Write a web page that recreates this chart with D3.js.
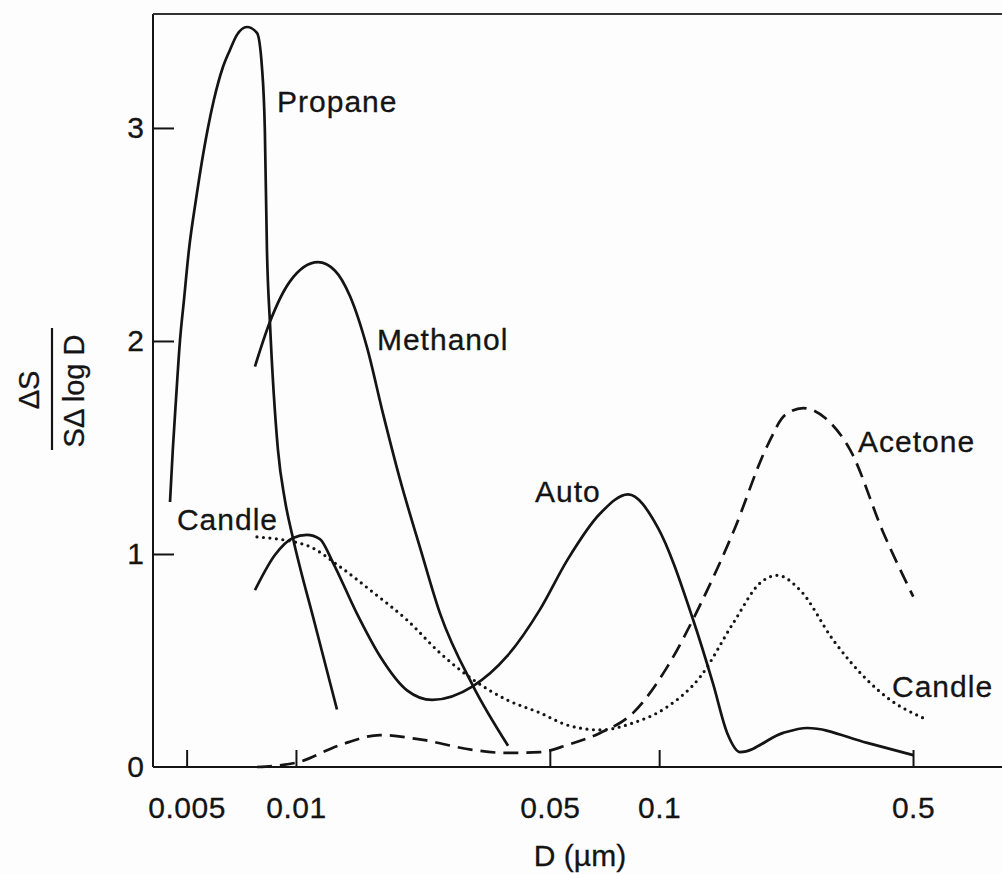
<!DOCTYPE html>
<html>
<head>
<meta charset="utf-8">
<script src="https://cdn.jsdelivr.net/npm/d3@7"></script>
<style>
  html, body { margin: 0; padding: 0; background: #fdfdfd; }
  svg { display: block; }
  text { font-family: "Liberation Sans", Arial, Helvetica, sans-serif; fill: #141414; }
</style>
</head>
<body>
<svg id="chart" width="1002" height="874"></svg>
<script>
// ---- Data (D in µm, value = ΔS / (S Δ log D)) ----
const propane = [[0.00450,1.244],[0.00458,1.488],[0.004673,1.723],[0.004793,2.00],[0.004916,2.192],[0.005073,2.427],[0.005303,2.662],[0.005578,2.897],[0.005723,3.00],[0.005942,3.131],[0.006295,3.286],[0.00658,3.366],[0.006879,3.437],[0.007328,3.474],[0.00781,3.446],[0.00806,3.286],[0.00821,2.99],[0.00832,2.427],[0.00848,2.085],[0.00892,1.49],[0.00933,1.25],[0.00981,1.075],[0.01128,0.67],[0.01297,0.27]];
const methanol = [[0.00771,1.88],[0.00848,2.09],[0.00963,2.28],[0.01150,2.37],[0.01281,2.33],[0.01409,2.21],[0.01569,1.97],[0.01736,1.66],[0.01934,1.35],[0.02196,1.03],[0.02494,0.72],[0.03074,0.38],[0.03837,0.10]];
const autoData = [[0.00771,0.83],[0.00875,0.995],[0.00981,1.075],[0.01072,1.09],[0.01164,1.07],[0.01264,0.96],[0.01472,0.72],[0.01704,0.52],[0.02022,0.36],[0.02370,0.315],[0.03074,0.38],[0.03813,0.52],[0.04700,0.74],[0.05580,0.97],[0.06879,1.19],[0.08214,1.28],[0.09874,1.13],[0.1241,0.69],[0.1408,0.39],[0.1539,0.16],[0.1672,0.07],[0.2196,0.16],[0.2557,0.183],[0.3741,0.113],[0.5007,0.056]];
const candle = [[0.00781,1.08],[0.01072,1.04],[0.01322,0.94],[0.01630,0.82],[0.02022,0.69],[0.02494,0.535],[0.03074,0.41],[0.03813,0.315],[0.04700,0.254],[0.05580,0.197],[0.06879,0.174],[0.08478,0.207],[0.1052,0.282],[0.1297,0.423],[0.1600,0.676],[0.1898,0.864],[0.2114,0.90],[0.2445,0.83],[0.3015,0.596],[0.3741,0.408],[0.4329,0.315],[0.5338,0.23]];
const acetone = [[0.00781,0.0],[0.0100,0.02],[0.01322,0.103],[0.01704,0.15],[0.02238,0.127],[0.03074,0.08],[0.03813,0.066],[0.04700,0.07],[0.05580,0.103],[0.06879,0.16],[0.08478,0.254],[0.1052,0.469],[0.1297,0.761],[0.1600,1.103],[0.1984,1.507],[0.2224,1.653],[0.2493,1.685],[0.2866,1.638],[0.3359,1.488],[0.4142,1.10],[0.5007,0.80]];

const xTicks = [0.005, 0.01, 0.05, 0.1, 0.5];
const xTickLabels = ["0.005", "0.01", "0.05", "0.1", "0.5"];
const yTicks = [0, 1, 2, 3];
const yTickLabels = ["0", "1", "2", "3"];

const seriesNames = ["Propane", "Methanol", "Auto", "Candle", "Acetone"];
const labelNames = ["Propane", "Methanol", "Auto", "Candle", "Acetone", "Candle"];
const labelD = [0.00887, 0.01671, 0.0455, 0.004702, 0.3528, 0.4377];
const labelV = [3.075, 1.958, 1.244, 1.113, 1.479, 0.329];

(function () {
  // ---- Layout ----
  const svg = d3.select("#chart");
  const pl = 153, pr = 1002, pt = 14, pb = 767;
  const x = d3.scaleLog().domain([0.00404, 0.879]).range([pl, pr]);
  const y = d3.scaleLinear().domain([0, 3.535]).range([pb, pt]);
  const ink = "#141414";

  // frame: left axis, top line
  svg.append("line").attr("x1", pl).attr("x2", pl).attr("y1", pt).attr("y2", pb)
    .attr("stroke", ink).attr("stroke-width", 2);
  svg.append("line").attr("x1", pl).attr("x2", pr).attr("y1", pt).attr("y2", pt)
    .attr("stroke", "#333").attr("stroke-width", 2);

  // x axis (ticks inward)
  const xAxis = d3.axisBottom(x).tickValues(xTicks)
    .tickFormat((d, i) => xTickLabels[i]).tickSizeInner(-17).tickSizeOuter(0).tickPadding(30);
  const gx = svg.append("g").attr("transform", `translate(0,${pb})`).call(xAxis);
  gx.select(".domain").attr("d", `M${pl},0H${pr}`).attr("stroke", ink).attr("stroke-width", 2);
  gx.selectAll(".tick line").attr("stroke", ink).attr("stroke-width", 2);
  gx.selectAll(".tick text").attr("font-size", 30).attr("fill", ink)
    .attr("font-family", "Liberation Sans, Arial, sans-serif").attr("letter-spacing", 0.5)
    .attr("stroke", ink).attr("stroke-width", 0.3);

  // y axis (ticks inward)
  const yAxis = d3.axisLeft(y).tickValues(yTicks)
    .tickFormat((d, i) => yTickLabels[i]).tickSizeInner(-21).tickSizeOuter(0).tickPadding(9);
  const gy = svg.append("g").attr("transform", `translate(${pl},0)`).call(yAxis);
  gy.select(".domain").remove();
  gy.selectAll(".tick line").attr("stroke", ink).attr("stroke-width", 2);
  gy.selectAll(".tick text").attr("font-size", 30).attr("fill", ink)
    .attr("font-family", "Liberation Sans, Arial, sans-serif")
    .attr("stroke", ink).attr("stroke-width", 0.3);
  gy.selectAll(".tick").filter(d => d === 0).select("line").remove();

  // axis titles
  svg.append("text").attr("x", 580).attr("y", 866).attr("text-anchor", "middle")
    .attr("font-size", 30).attr("stroke", ink).attr("stroke-width", 0.3).text("D (µm)");
  const yl = svg.append("g").attr("transform", "translate(0,390)")
    .attr("stroke", ink).attr("stroke-width", 0.3);
  yl.append("text").attr("transform", "translate(39,0) rotate(-90)").attr("text-anchor", "middle")
    .attr("font-size", 29).text("ΔS");
  yl.append("line").attr("x1", 52).attr("x2", 52).attr("y1", -62).attr("y2", 60)
    .attr("stroke", ink).attr("stroke-width", 2.2);
  yl.append("text").attr("transform", "translate(84,1) rotate(-90)").attr("text-anchor", "middle")
    .attr("font-size", 29).text("SΔ log D");

  // curves
  const line = d3.line().x(d => x(d[0])).y(d => y(d[1])).curve(d3.curveMonotoneX);
  const series = [
    { name: seriesNames[0], data: propane, dash: null },
    { name: seriesNames[1], data: methanol, dash: null },
    { name: seriesNames[2], data: autoData, dash: null },
    { name: seriesNames[3], data: candle, dash: "0,6.5", cap: "round", w: 3.2 },
    { name: seriesNames[4], data: acetone, dash: "15,8" }
  ];
  svg.append("g").selectAll("path").data(series).join("path")
    .attr("d", s => line(s.data))
    .attr("fill", "none")
    .attr("stroke", ink)
    .attr("stroke-width", s => s.w || 2.7)
    .attr("stroke-linecap", s => s.cap || "butt")
    .attr("stroke-dasharray", s => s.dash);

  // labels
  svg.append("g").selectAll("text").data(labelNames).join("text")
    .attr("x", (d, i) => x(labelD[i]))
    .attr("y", (d, i) => y(labelV[i]))
    .attr("font-size", 30)
    .attr("letter-spacing", 1)
    .attr("stroke", ink).attr("stroke-width", 0.3)
    .text(d => d);
})();
</script>
</body>
</html>
